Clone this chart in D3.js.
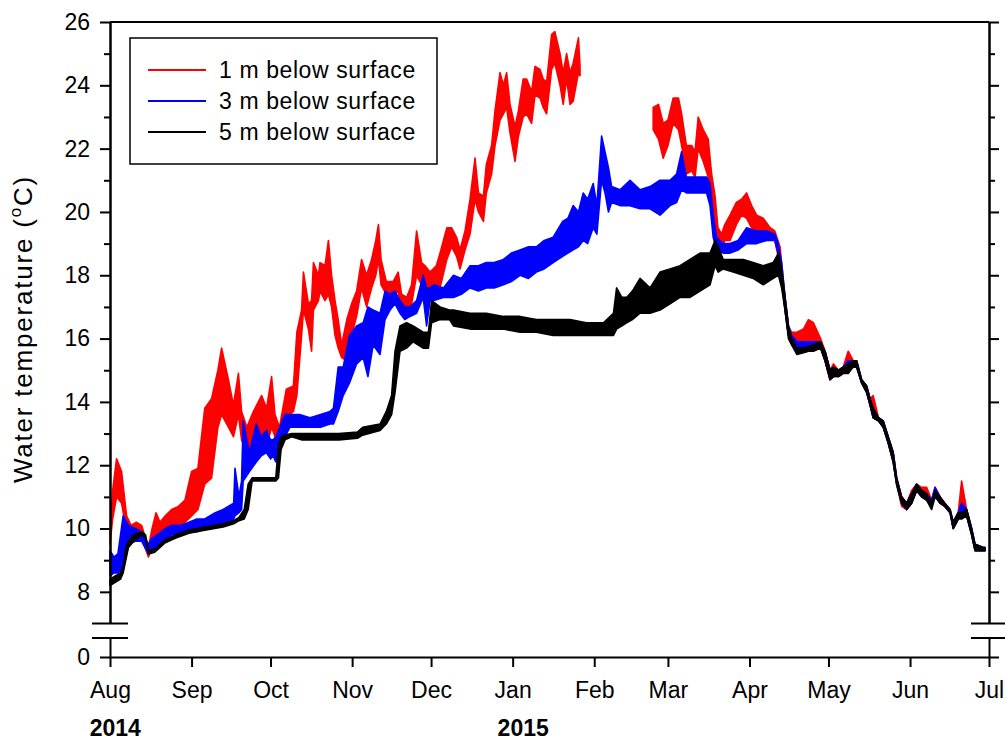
<!DOCTYPE html>
<html>
<head>
<meta charset="utf-8">
<script src="https://cdn.jsdelivr.net/npm/d3@7"></script>
<style>
  body { margin: 0; background: #fff; }
  svg { display: block; font-family: "Liberation Sans", Arial, sans-serif; }
  .axis path, .axis line { stroke: #000; stroke-width: 2; }
  .axis text { font-size: 23px; fill: #000; }
</style>
</head>
<body>
<div id="chart"></div>
<script>
// day = days since 1 Aug 2014; lo/hi = envelope of the logged temperature (degC)
const redDay  = [0,1,2.5,4.4,6.3,8,10,12,14.6,16,17.5,19,21,23.4,26,28.5,31,33.4,36,38.6,41,42.4,45,46.9,48.8,50,52,54.5,57.6,59.5,61.4,62.7,64.4,67,69.7,71,72.8,73.5,75.4,76.6,77.3,79.2,79.8,81.7,83,84.2,85.5,86.7,88,90,91.8,93.7,95.6,97.5,99.4,101,102,103,105,107.6,109.5,110.8,112.7,114.6,116.5,118.4,119.7,121.6,124,125.4,128,129.8,131.7,133,134.9,136.8,138.7,140,141.9,143,145,146.3,148.2,149.5,150.7,152,153.9,155.2,157,158.3,160.2,161.5,163.4,164.6,165.9,167.8,169,171,172.2,173.5,174.8,176,178,178.6,190,206.4,208.4,210.2,212,214,216,217.2,219,221,222.3,223.5,225.4,227.3,228.6,229.9,231,232.4,233.6,235.6,238,240,241.9,243.8,245.7,248.2,250.8,252.6,254.6,256.5,257.8,259,261,263.5,265.4,267.3,270,271.7,273.6,274.9,276.8,278.6,280.5,282.4,283.7,285.6,287.5,288.8,290,292,293.8,295.7,297.6,298.9,300.8,302.7,304.6,306.5,308.4,310.3,312.2,313.5,315.4,317.2,319.2,320.4,322.3,323.6,325.5,327.4,328.7,331.8,332.5];
const redLow  = [9.5,10.3,11.0,10.8,9.9,9.7,9.8,9.7,9.1,9.4,9.6,9.5,9.8,10.0,10.1,10.2,10.4,10.6,11.4,11.6,13.2,13.6,13.2,12.9,13.6,12.8,12.4,12.4,12.9,12.6,13.2,12.9,12.8,13.5,13.7,14.2,16.1,16.9,16.3,15.6,16.9,17.2,17.5,17.2,17.4,17.0,16.1,15.7,15.4,15.3,16.1,16.7,17.6,17.0,17.6,18.0,18.5,17.7,17.4,17.4,17.5,16.9,16.8,17.1,18.0,17.7,17.6,17.5,17.6,17.6,18.5,18.9,18.6,18.2,18.8,19.3,20.4,20.0,19.7,20.6,21.2,22.1,22.9,23.1,23.3,22.5,21.6,22.4,23.0,23.1,22.8,23.7,23.6,23.3,23.1,24.5,24.7,24.0,23.4,24.2,23.4,23.5,24.4,24.3,null,22.6,22.3,21.7,22.1,22.8,22.6,22.1,21.2,21.3,21.1,22.0,21.6,21.1,20.1,19.2,18.9,18.8,19.1,19.1,19.6,19.9,19.8,19.5,19.4,19.4,19.2,19.1,18.3,16.9,16.1,15.9,15.8,15.8,15.8,15.8,15.7,15.3,14.7,14.9,14.8,14.9,15.2,15.1,15.1,14.6,14.3,13.9,13.5,13.4,13.2,12.7,12.1,11.4,10.7,10.6,10.8,11.2,11.0,10.9,10.7,11.1,10.8,10.7,10.5,10.0,10.3,10.5,10.4,9.8,9.3,9.3,9.3];
const redHigh = [9.8,11.2,12.2,11.8,10.4,10.1,10.2,10.1,9.4,10.0,10.5,10.2,10.4,10.6,10.7,10.9,11.8,11.9,13.8,14.1,15.0,15.7,14.7,13.9,14.9,13.7,13.2,13.7,14.2,13.8,14.8,13.6,13.2,14.4,14.5,16.2,16.9,18.1,17.1,17.2,18.4,18.0,18.4,18.3,19.1,18.0,17.2,16.6,15.8,16.6,17.1,17.5,18.5,18.0,18.5,19.1,19.6,18.5,17.8,17.8,18.1,17.4,17.3,17.7,19.4,18.4,18.3,18.1,18.3,18.7,19.5,19.5,19.2,18.8,19.4,20.4,21.7,20.6,20.5,21.5,22.1,23.2,24.4,24.0,24.4,23.4,22.7,23.2,24.2,24.2,23.8,24.6,24.5,24.2,24.1,25.6,25.7,25.0,24.4,25.0,24.4,24.7,25.5,24.6,null,23.3,23.4,22.8,22.9,23.6,23.6,23.1,22.1,22.1,21.9,23.0,22.6,22.3,21.2,20.5,19.5,19.3,19.6,19.9,20.3,20.4,20.6,20.2,19.9,19.8,19.5,19.4,18.9,17.3,16.4,16.2,16.2,16.3,16.6,16.5,16.0,15.6,15.0,15.2,15.0,15.1,15.6,15.3,15.3,14.7,14.5,14.1,14.2,13.5,13.4,12.9,12.4,11.6,11.0,10.8,11.2,11.4,11.3,11.3,10.9,11.3,11.0,10.8,10.6,10.2,10.5,11.5,10.6,10.0,9.5,9.4,9.4];

const blueDay  = [0,1.5,3,5,7,9.6,12,14.6,16,18,21,23.4,27,30,33,36,40,43,47,47.5,49,50,50.6,53,55.6,57.5,59.4,61,62,63,64.5,66.5,68.4,72,76,80,83.6,84.9,86.7,88.6,91,93.7,96.2,98,100,102.6,104.5,106.4,108.3,110.2,112,114,116.5,119,120.3,121.6,123,126.7,130.5,133.5,136.8,140,143,146,149.5,152.5,155.8,159,162,165,168.4,172,174,176,178,179.8,181.5,183.6,185,186.8,188.1,189.4,190.6,193.8,197.6,201.4,205.2,209,212.8,215.3,217.2,219,221.6,224.2,226.7,228,229.2,230.5,233,235.6,238.7,241.9,245.7,249.5,252.6,253.9,255.2,256.5,257.8,259,261,263.5,265.4,267.3,270,271.7,273.6,274.9,276.8,278.6,280.5,282.4,283.7,285.6,287.5,288.8,290,292,293.8,295.7,297.6,298.9,300.8,302.7,304.6,306.5,308.4,310.3,312.2,313.5,315.4,317.2,319.2,320.4,322.3,323.6,325.5,327.4,328.7,331.8,332.5];
const blueLow  = [8.5,8.6,8.6,8.7,9.5,9.6,9.6,9.2,9.3,9.4,9.6,9.8,9.8,9.9,9.9,10.0,10.1,10.1,10.3,10.4,10.5,10.6,11.5,11.8,12.1,12.3,12.4,12.2,12.3,12.1,12.5,12.9,13.2,13.2,13.2,13.2,13.3,13.3,13.7,14.2,14.6,15.2,15.4,14.8,15.8,15.5,16.6,16.9,17.1,16.8,16.6,16.7,16.8,17.3,16.4,17.2,17.2,17.3,17.3,17.4,17.6,17.5,17.6,17.6,17.7,17.8,18.0,17.9,18.1,18.2,18.4,18.6,18.7,18.8,18.9,19.1,19.0,19.5,19.3,21.0,20.6,20.0,20.3,20.2,20.2,20.1,20.1,19.9,20.2,20.3,20.7,20.6,20.6,20.6,20.6,20.2,19.2,18.8,18.7,18.7,18.8,19.0,19.0,19.1,19.1,18.7,18.0,16.9,16.1,15.9,15.6,15.7,15.7,15.7,15.7,15.3,14.7,14.8,14.8,14.9,15.0,15.1,15.1,14.6,14.3,13.9,13.5,13.4,13.2,12.7,12.1,11.4,10.8,10.6,10.8,11.2,11.0,10.9,10.7,11.1,10.8,10.7,10.5,10.0,10.3,10.4,10.4,9.8,9.3,9.3,9.3];
const blueHigh = [9.3,9.1,9.2,10.4,10.1,10.0,9.9,9.5,9.7,9.8,10.0,10.1,10.1,10.2,10.3,10.3,10.5,10.6,10.8,11.9,11.0,11.5,13.4,12.4,13.3,12.9,13.1,12.8,12.8,12.9,13.2,13.6,13.6,13.6,13.5,13.6,13.7,13.8,15.1,15.1,16.1,16.4,16.5,17.0,16.9,16.8,17.5,17.4,17.5,17.2,17.0,17.0,17.2,18.0,17.6,17.6,17.7,17.6,18.0,17.9,18.3,18.3,18.4,18.4,18.5,18.7,18.8,18.9,18.9,19.1,19.2,19.7,19.8,20.2,20.0,20.6,20.4,20.9,20.2,22.4,21.9,21.4,20.8,20.7,21.0,20.7,20.8,21.0,21.0,21.2,21.9,21.1,21.1,21.1,21.1,20.9,19.9,19.2,19.0,19.0,19.1,19.5,19.4,19.4,19.3,19.0,18.4,17.3,16.4,16.1,15.9,15.9,15.9,15.9,15.9,15.6,15.0,15.1,15.0,15.1,15.3,15.3,15.3,14.7,14.5,14.1,13.8,13.5,13.4,12.9,12.4,11.6,11.0,10.8,11.1,11.4,11.2,11.1,10.9,11.3,11.0,10.8,10.6,10.2,10.5,10.8,10.6,10.0,9.5,9.4,9.4];

const blackDay  = [0,2,4,5,6,7,9,12,13.5,14.6,17,21,25,30,36,43,47,49,51,52.5,54,63,64,65,66.5,69,73,80,87,94,96,102.6,105,107,108.3,110.2,112.7,115.2,119,121,122.2,125.4,129,130.5,136.8,143,149.5,155.8,162,168.4,174.8,181,187.5,191.3,192.5,194.5,196.3,198.5,201.4,205.2,209,212.8,216.6,220.4,224.2,228,229.9,231.1,233,236.8,240.6,244.4,248.2,252,254,255.2,256.5,257.8,259,261,263.5,265.4,267.3,270,271.7,273.6,274.9,276.8,278.6,280.5,282.4,283.7,285.6,287.5,288.8,290,292,293.8,295.7,297.6,298.9,300.8,302.7,304.6,306.5,308.4,310.3,312.2,313.5,315.4,317.2,319.2,320.4,322.3,323.6,325.5,327.4,328.7,331.8,332.5];
const blackLow  = [8.2,8.3,8.4,8.6,9.0,9.4,9.6,9.8,9.7,9.2,9.25,9.55,9.7,9.85,9.95,10.05,10.15,10.25,10.3,10.6,11.5,11.5,11.6,12.5,12.8,12.9,12.8,12.8,12.8,12.85,12.95,13.1,13.3,13.6,14.3,15.6,15.7,15.9,15.7,15.7,16.5,16.6,16.6,16.4,16.3,16.3,16.3,16.2,16.2,16.1,16.1,16.1,16.1,16.1,16.3,16.4,16.5,16.6,16.8,16.8,16.9,17.1,17.3,17.3,17.5,17.7,18.3,18.1,18.2,18.1,18.0,17.9,17.7,17.9,18.0,17.6,16.9,16.0,15.8,15.5,15.55,15.6,15.6,15.7,15.3,14.7,14.8,14.8,14.9,14.9,15.1,15.1,14.6,14.3,13.9,13.5,13.4,13.2,12.7,12.1,11.4,10.8,10.6,10.8,11.2,11.0,10.9,10.6,11.0,10.8,10.7,10.5,10.0,10.3,10.3,10.4,9.8,9.3,9.3,9.3];
const blackHigh = [8.4,8.5,8.6,8.8,9.4,9.6,9.8,9.9,9.8,9.3,9.35,9.65,9.8,9.95,10.05,10.15,10.25,10.35,10.6,11.4,11.6,11.6,12.6,12.9,12.95,13.0,13.0,13.0,13.0,13.05,13.2,13.3,13.7,14.2,15.6,16.4,16.5,16.4,16.2,16.2,17.2,17.0,16.9,16.9,16.8,16.8,16.7,16.7,16.6,16.6,16.6,16.5,16.5,16.8,17.6,17.3,17.3,17.5,17.9,17.6,18.1,18.2,18.3,18.5,18.7,18.7,19.1,18.9,18.5,18.5,18.5,18.4,18.3,18.4,18.7,18.2,17.3,16.4,16.0,15.7,15.7,15.75,15.8,15.9,15.6,15.0,15.1,15.0,15.1,15.2,15.3,15.3,14.7,14.5,14.1,13.8,13.5,13.4,12.9,12.4,11.6,11.0,10.8,11.1,11.4,11.2,11.1,10.8,11.2,11.0,10.8,10.6,10.2,10.5,10.5,10.6,10.0,9.5,9.4,9.4];

const seriesNames = ["1 m below surface", "3 m below surface", "5 m below surface"];
const seriesColors = ["#ff0000", "#0000ff", "#000000"];
const majorTicks = [8, 10, 12, 14, 16, 18, 20, 22, 24, 26];
const minorTicks = [9, 11, 13, 15, 17, 19, 21, 23, 25];
const yearLabels = [{label: "2014", day: 2}, {label: "2015", day: 157}];

const START = Date.UTC(2014, 7, 1), END = Date.UTC(2015, 6, 1);
const dayToDate = d => new Date(START + d * 864e5);

const build = (days, lo, hi) => days.map((d, i) => ({date: dayToDate(d), lo: lo[i], hi: hi[i]}));
const series = [
  build(redDay, redLow, redHigh),
  build(blueDay, blueLow, blueHigh),
  build(blackDay, blackLow, blackHigh)
];

const margin = {top: 22, right: 16, bottom: 86, left: 110},
      width = 1005 - margin.left - margin.right,
      height = 743 - margin.top - margin.bottom;

const breakTop = 601.5, breakBottom = 616;   // gap in the y axis

const x = d3.scaleUtc().domain([new Date(START), new Date(END)]).range([0, width]);
const y = d3.scaleLinear().domain([7, 26]).range([breakTop, 0]);
const yLow = d3.scaleLinear().domain([0, 0.6]).range([height, breakBottom]);

const svg = d3.select("#chart").append("svg")
  .attr("width", 1005)
  .attr("height", 743)
  .append("g")
  .attr("transform", `translate(${margin.left},${margin.top})`);

// data bands
const area = d3.area()
  .defined(d => d.lo != null)
  .x(d => x(d.date))
  .y0(d => y(d.lo))
  .y1(d => y(d.hi));

series.forEach((s, i) => {
  svg.append("path")
    .datum(s)
    .attr("d", area)
    .attr("fill", seriesColors[i])
    .attr("stroke", seriesColors[i])
    .attr("stroke-width", 1.6)
    .attr("stroke-linejoin", "round");
});

// left axis (upper part + minor ticks)
svg.append("g").attr("class", "axis")
  .call(d3.axisLeft(y).tickValues(majorTicks).tickSize(10).tickSizeOuter(0).tickPadding(10));
svg.append("g").attr("class", "axis")
  .call(d3.axisLeft(y).tickValues(minorTicks).tickSize(6).tickSizeOuter(0).tickFormat(""));
// left axis lower part
svg.append("g").attr("class", "axis")
  .call(d3.axisLeft(yLow).tickValues([0]).tickFormat(d3.format("d")).tickSize(10).tickSizeOuter(0).tickPadding(10));

// right axis
const right = svg.append("g").attr("transform", `translate(${width},0)`);
right.append("g").attr("class", "axis")
  .call(d3.axisRight(y).tickValues(majorTicks).tickSize(10).tickSizeOuter(0).tickFormat(""));
right.append("g").attr("class", "axis")
  .call(d3.axisRight(y).tickValues(minorTicks).tickSize(6).tickSizeOuter(0).tickFormat(""));
right.append("g").attr("class", "axis")
  .call(d3.axisRight(yLow).tickValues([0]).tickSize(10).tickSizeOuter(0).tickFormat(""));

// top border
svg.append("line")
  .attr("x1", 0).attr("x2", width).attr("y1", 0).attr("y2", 0)
  .attr("stroke", "#000").attr("stroke-width", 2);

// x axis
const xAxis = svg.append("g").attr("class", "axis")
  .attr("transform", `translate(0,${height})`)
  .call(d3.axisBottom(x)
    .tickValues(d3.utcMonth.range(new Date(START), new Date(END + 1)))
    .tickFormat(d3.utcFormat("%b"))
    .tickSize(10).tickSizeOuter(0));
xAxis.selectAll("text").attr("y", 41).attr("dy", 0);

// axis break marks
[0, width].forEach(ax => {
  [breakTop, breakBottom].forEach(by => {
    svg.append("line")
      .attr("x1", ax - 18).attr("x2", ax + 18)
      .attr("y1", by).attr("y2", by)
      .attr("stroke", "#000").attr("stroke-width", 2);
  });
});

// year labels
svg.selectAll(".year")
  .data(yearLabels)
  .enter().append("text")
  .attr("class", "year")
  .attr("x", d => x(dayToDate(d.day)))
  .attr("y", 736 - margin.top)
  .attr("text-anchor", "middle")
  .attr("font-size", 23)
  .attr("font-weight", "bold")
  .text(d => d.label);

// y title
const title = svg.append("text")
  .attr("transform", `translate(${-78},${329 - margin.top}) rotate(-90)`)
  .attr("text-anchor", "middle")
  .attr("font-size", 26)
  .attr("letter-spacing", 1.8);
title.append("tspan").text("Water temperature (");
title.append("tspan").attr("font-size", 17).attr("dy", -11).text("o");
title.append("tspan").attr("dy", 11).text("C)");

// legend
const legend = svg.append("g").attr("transform", `translate(${130 - margin.left},${38 - margin.top})`);
legend.append("rect")
  .attr("width", 307).attr("height", 126)
  .attr("fill", "#fff").attr("stroke", "#000").attr("stroke-width", 1.5);
seriesNames.forEach((name, i) => {
  const ly = 32 + i * 31;
  legend.append("line")
    .attr("x1", 18).attr("x2", 76).attr("y1", ly).attr("y2", ly)
    .attr("stroke", seriesColors[i]).attr("stroke-width", 2);
  legend.append("text")
    .attr("x", 89).attr("y", ly + 8)
    .attr("font-size", 23)
    .attr("letter-spacing", 0.6)
    .text(name);
});
</script>
</body>
</html>
